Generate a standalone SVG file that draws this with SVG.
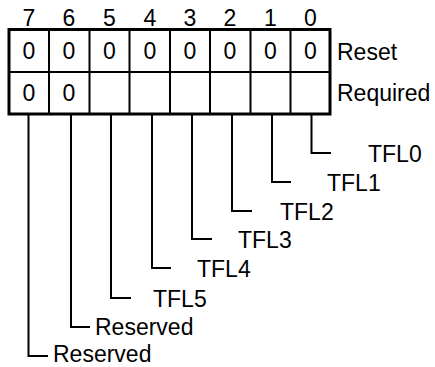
<svg xmlns="http://www.w3.org/2000/svg" width="435" height="367" viewBox="0 0 435 367">
<style>
text{font-family:"Liberation Sans",Arial,sans-serif;font-size:23px;fill:#000}
.c{text-anchor:middle}
.b{fill:none;stroke:#000;stroke-width:3}
.g{fill:none;stroke:#000;stroke-width:2}
.w{fill:none;stroke:#000;stroke-width:2}
</style>
<rect width="435" height="367" fill="#fff"/>
<g id="bitnumbers">
<text class="c" x="29" y="26">7</text>
<text class="c" x="69" y="26">6</text>
<text class="c" x="109.5" y="26">5</text>
<text class="c" x="150" y="26">4</text>
<text class="c" x="190" y="26">3</text>
<text class="c" x="230" y="26">2</text>
<text class="c" x="270.5" y="26">1</text>
<text class="c" x="310.5" y="26">0</text>
</g>
<g id="register">
<rect class="b" x="9" y="29.5" width="321" height="84.5"/>
<path class="g" d="M9 72H330M49 29.5V114M89.5 29.5V114M129.5 29.5V114M170 29.5V114M210 29.5V114M250.5 29.5V114M290.5 29.5V114"/>
<text class="c" x="29" y="59">0</text>
<text class="c" x="69" y="59">0</text>
<text class="c" x="109.5" y="59">0</text>
<text class="c" x="150" y="59">0</text>
<text class="c" x="190" y="59">0</text>
<text class="c" x="230" y="59">0</text>
<text class="c" x="270.5" y="59">0</text>
<text class="c" x="310.5" y="59">0</text>
<text class="c" x="29" y="101">0</text>
<text class="c" x="69" y="101">0</text>
<text x="337" y="60">Reset</text>
<text x="337" y="101">Required</text>
</g>
<g id="connectors">
<path class="w" d="M311.5 114V153H331"/>
<path class="w" d="M272 114V182H291"/>
<path class="w" d="M232 114V211H252"/>
<path class="w" d="M192 114V239H212"/>
<path class="w" d="M152 114V268H171"/>
<path class="w" d="M111 114V298H131"/>
<path class="w" d="M71 114V327H90"/>
<path class="w" d="M28.5 114V356H48"/>
</g>
<g id="labels">
<text x="368" y="162">TFL0</text>
<text x="327" y="191">TFL1</text>
<text x="280" y="220">TFL2</text>
<text x="238" y="248">TFL3</text>
<text x="197" y="277">TFL4</text>
<text x="153" y="307">TFL5</text>
<text x="95" y="335">Reserved</text>
<text x="53" y="362">Reserved</text>
</g>
</svg>
